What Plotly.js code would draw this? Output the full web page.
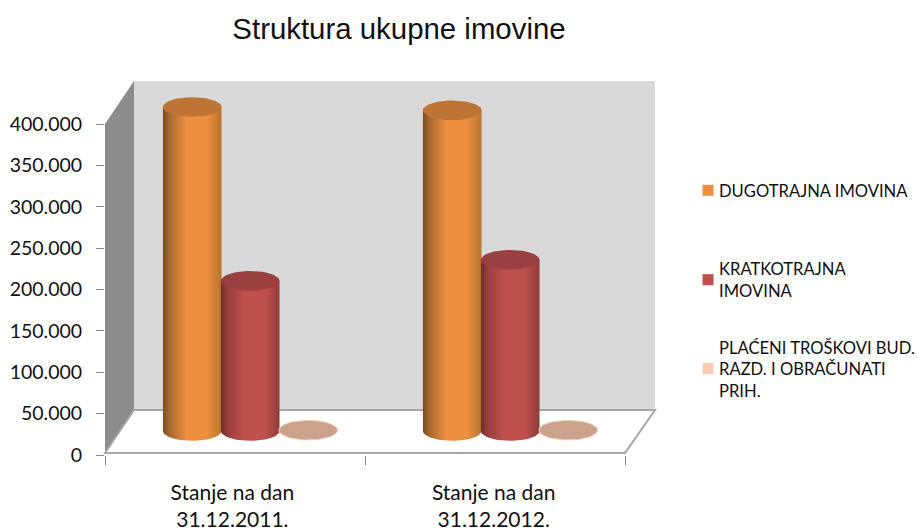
<!DOCTYPE html>
<html><head><meta charset="utf-8">
<script src="https://cdn.plot.ly/plotly-3.0.1.min.js"></script>
<style>html,body{margin:0;padding:0;background:#fff}</style></head>
<body><div id="chart" style="width:918px;height:532px"></div>
<script>
const categories = ['Stanje na dan<br>31.12.2011.', 'Stanje na dan<br>31.12.2012.'];
const dugotrajna = [391500, 387500];
const kratkotrajna = [181500, 207000];
const placeni = [1000, 1000];
const seriesNames = ['DUGOTRAJNA IMOVINA', 'KRATKOTRAJNA<br>IMOVINA', 'PLAĆENI TROŠKOVI BUD.<br>RAZD. I OBRAČUNATI<br>PRIH.'];
const yTickVals = [0, 50000, 100000, 150000, 200000, 250000, 300000, 350000, 400000];
const yTickText = ['0', '50.000', '100.000', '150.000', '200.000', '250.000', '300.000', '350.000', '400.000'];

// pseudo-3D projection settings
const W = 550, H = 374, L = 105, T = 81;
const xMax = W / 260, yMax = H / 0.0008275;
const floorBase = 24 / 0.0008275;      // floor position of the cylinder base
const rx = 29.3 / 260, ry = 9.8 / 0.0008275;
const groupCentre = [0.5585, 1.5585], slot = 58 / 260;
const legendColors = ['#ED8F3F', '#C0504D', '#FAC9B0'];
const sideScale = [
  [[0, '#7d4c1f'], [0.12, '#a96a30'], [0.4, '#ED8F3F'], [0.75, '#ED8F3F'], [1, '#b9742f']],
  [[0, '#6f2b2a'], [0.12, '#983f3d'], [0.4, '#C0504D'], [0.75, '#C0504D'], [1, '#8f3c3a']]
];
const topColors = ['#BD7434', '#9A4040', '#CBA28C'];

function arc(cx, cy, a0, a1, n) {
  const xs = [], ys = [];
  for (let i = 0; i <= n; i++) {
    const t = a0 + (a1 - a0) * i / n;
    xs.push(cx + rx * Math.cos(t));
    ys.push(cy + ry * Math.sin(t));
  }
  return [xs, ys];
}
const traces = [];
[dugotrajna, kratkotrajna, placeni].forEach((vals, s) => {
  vals.forEach((v, g) => {
    const cx = groupCentre[g] + (s - 1) * slot;
    const y0 = floorBase, y1 = floorBase + v;
    if (s < 2) {
      const b = arc(cx, y0, Math.PI, 2 * Math.PI, 30);
      const xs = b[0].concat([cx + rx, cx - rx, cx - rx]);
      const ys = b[1].concat([y1, y1, y0]);
      traces.push({x: xs, y: ys, mode: 'lines', line: {width: 0}, fill: 'toself', showlegend: false, hoverinfo: 'skip',
        fillgradient: {type: 'horizontal', colorscale: sideScale[s]}});
    }
    const e = arc(cx, y1, 0, 2 * Math.PI, 60);
    traces.push({x: e[0], y: e[1], mode: 'lines', line: {width: s === 2 ? 1 : 0, color: '#F3CDB8'}, fill: 'toself',
      fillcolor: topColors[s], showlegend: false, hoverinfo: 'skip'});
  });
});
seriesNames.forEach((n, i) => traces.push({x: [null], y: [null], name: n, mode: 'markers', legendgroup: 'g' + i,
  marker: {symbol: 'square', size: 11, color: legendColors[i]}, hoverinfo: 'skip'}));

const frac = (x, y) => ({x: (x - L) / W, y: 1 - (y - T) / H});
const poly = pts => 'M' + pts.map(p => { const f = frac(p[0], p[1]); return f.x + ',' + f.y; }).join('L') + 'Z';
const edge = {color: '#A6A6A6', width: 2};
const shapes = [
  {type: 'path', xref: 'paper', yref: 'paper', layer: 'below', path: poly([[134, 81], [655, 81], [655, 410], [134, 410]]), fillcolor: '#D9D9D9', line: {width: 0}},
  {type: 'path', xref: 'paper', yref: 'paper', layer: 'below', path: poly([[105, 124], [134, 81], [134, 410], [105, 453]]), fillcolor: '#8C8C8C', line: {width: 0}},
  {type: 'path', xref: 'paper', yref: 'paper', layer: 'below', path: poly([[105, 453], [134, 410], [655, 410], [625, 453]]), fillcolor: '#FFFFFF', line: edge}
];
const layout = {
  width: 918, height: 532, autosize: false,
  margin: {l: L, r: 918 - L - W, t: T, b: 532 - T - H, pad: 0},
  paper_bgcolor: '#fff', plot_bgcolor: 'rgba(0,0,0,0)',
  font: {family: 'Lato, sans-serif', color: '#111'},
  title: {text: 'Struktura ukupne imovine', font: {family: 'Liberation Sans, Arial, sans-serif', size: 29.4, color: '#111'},
    x: 399 / 918, xanchor: 'center', y: 1 - 29 / 532, yanchor: 'middle'},
  xaxis: {range: [0, xMax], showgrid: false, zeroline: false, showline: false, fixedrange: true,
    tickmode: 'array', tickvals: [0.49, 1.495], ticktext: categories, ticks: '', tickfont: {size: 21, family: 'Lato, sans-serif', color: '#111'},
    ticklabelstandoff: 23,
    minor: {tickmode: 'array', tickvals: [0, 1, 2], ticks: 'outside', ticklen: 9, tickcolor: '#8a8a8a', tickwidth: 1, showgrid: false}},
  yaxis: {range: [0, yMax], showgrid: false, zeroline: false, showline: false, fixedrange: true,
    tickmode: 'array', tickvals: yTickVals, ticktext: yTickText, ticks: 'outside', ticklen: 8, tickcolor: '#8a8a8a',
    ticklabelstandoff: 10,
    tickfont: {size: 19.5, family: 'Lato, sans-serif', color: '#111'}},
  shapes: shapes,
  showlegend: true,
  legend: {xref: 'container', yref: 'container', x: 679 / 918, xanchor: 'left', y: 1 - 173 / 532, yanchor: 'top', bgcolor: 'rgba(0,0,0,0)', borderwidth: 0,
    font: {size: 16.6, family: 'Lato, sans-serif', color: '#111'}, traceorder: 'grouped', tracegroupgap: 32, itemwidth: 30}
};
Plotly.newPlot('chart', traces, layout, {displayModeBar: false, staticPlot: true}).then(gd => {
  // Excel-style legend: symbol beside its text, first entry set apart from the rest
  gd.querySelectorAll('.legend .legendsymbols').forEach(s => s.setAttribute('transform', 'translate(9,0)'));
  const box = gd.querySelector('.legend .scrollbox');
  if (box) box.removeAttribute('clip-path');
  gd.querySelectorAll('.legend .groups').forEach((g, i) => {
    if (i > 0) g.setAttribute('transform', (g.getAttribute('transform') || '') + ' translate(0,22)');
  });
});
</script></body></html>
